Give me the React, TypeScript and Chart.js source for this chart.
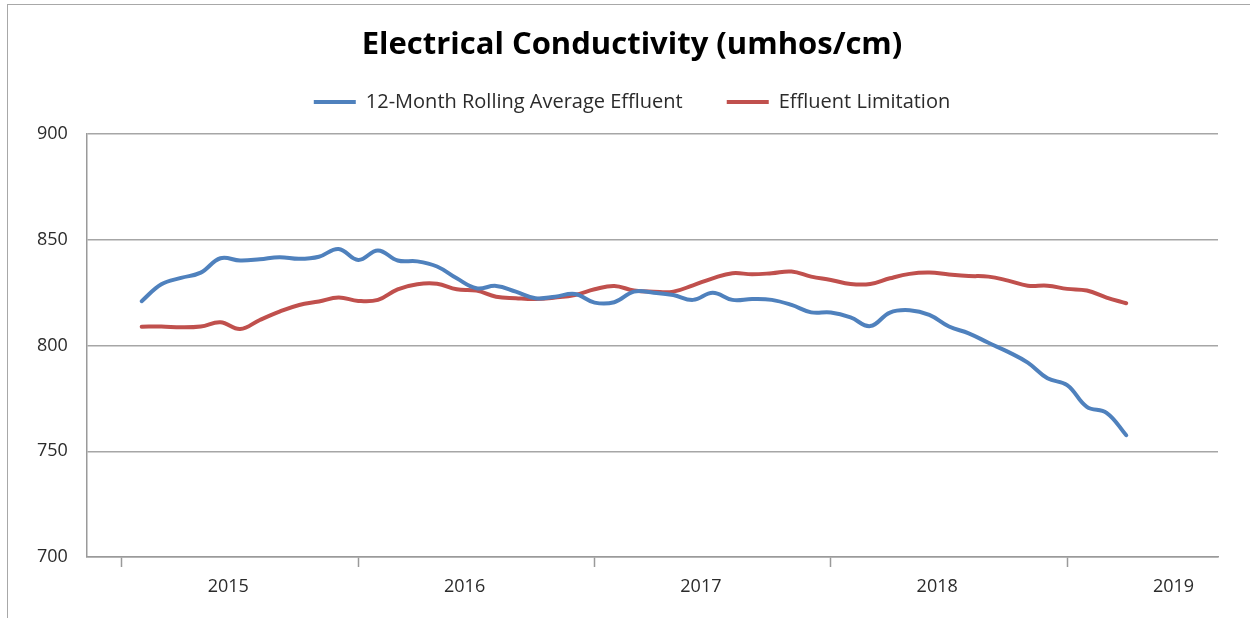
import { useEffect, useRef } from 'react';
import { Chart, registerables } from 'chart.js';

Chart.register(...registerables);

const chartTitle = 'Electrical Conductivity (umhos/cm)';
const seriesNames = ['12-Month Rolling Average Effluent', 'Effluent Limitation'];
const yearLabels = ['2015', '2016', '2017', '2018', '2019'];
const yTicks = [700, 750, 800, 850, 900];

const months = [
  '2015-02', '2015-03', '2015-04', '2015-05', '2015-06', '2015-07', '2015-08', '2015-09', '2015-10', '2015-11', '2015-12',
  '2016-01', '2016-02', '2016-03', '2016-04', '2016-05', '2016-06', '2016-07', '2016-08', '2016-09', '2016-10', '2016-11', '2016-12',
  '2017-01', '2017-02', '2017-03', '2017-04', '2017-05', '2017-06', '2017-07', '2017-08', '2017-09', '2017-10', '2017-11', '2017-12',
  '2018-01', '2018-02', '2018-03', '2018-04', '2018-05', '2018-06', '2018-07', '2018-08', '2018-09', '2018-10', '2018-11', '2018-12',
  '2019-01', '2019-02', '2019-03', '2019-04',
];

const rollingAvg = [
  821, 829, 832, 834.5, 841.3, 840.2, 840.8, 841.8, 841, 842, 845.7,
  840.5, 845, 840.2, 839.8, 837.4, 831.8, 827.1, 828.2, 825.5, 822.4, 823.1, 824.4,
  820.3, 820.5, 825.5, 825, 823.9, 821.6, 825, 821.6, 822, 821.6, 819.2, 815.7,
  815.6, 813.3, 809.2, 815.6, 816.7, 814.5, 809, 805.8, 801.3, 797, 791.9, 784.5,
  781.3, 771, 768.2, 757.6,
];

const limitation = [
  808.9, 809, 808.6, 809, 811, 807.8, 812.1, 816, 819.2, 820.8, 822.7,
  821.1, 821.6, 826.6, 829, 829.2, 826.6, 826, 823.1, 822.4, 822, 822.7, 823.9,
  826.6, 828.2, 826, 825.5, 825.5, 828.5, 831.8, 834.2, 833.7, 834.2, 835, 832.6,
  831, 829.1, 829.1, 831.8, 833.9, 834.5, 833.6, 832.9, 832.6, 830.7, 828.3, 828.3,
  826.8, 826, 822.7, 820,
];

const BLUE = '#4F81BD';
const RED = '#C0504D';
const FONT = "'Open Sans', sans-serif";
const TEXT = '#2b2b2b';
const AXIS = '#9a9a9a';

export default function App() {
  const ref = useRef<HTMLCanvasElement>(null);

  useEffect(() => {
    if (!ref.current) return;
    const yearStart = (i: number) => i * 12;
    const labelOffset = 5.4;
    const tickVals = [
      ...yearLabels.map((_, i) => yearStart(i)),
      ...yearLabels.map((_, i) => yearStart(i) + labelOffset),
    ].sort((a, b) => a - b);
    const near = (a: number, b: number) => Math.abs(a - b) < 1e-6;
    const isBoundary = (v: number) => yearLabels.some((_, i) => near(yearStart(i), v));
    const labelFor = (v: number) => {
      const i = yearLabels.findIndex((_, k) => near(yearStart(k) + labelOffset, v));
      return i >= 0 ? yearLabels[i] : '';
    };

    const legendSpacer = {
      id: 'legendSpacer',
      beforeLayout(chart: any) {
        const lg = chart.legend;
        if (lg && !lg.__patched) {
          const orig = lg.fit;
          lg.fit = function () {
            orig.call(this);
            this.height += 12;
          };
          lg.__patched = true;
        }
      },
    };

    const chart = new Chart(ref.current, {
      type: 'line',
      data: {
        labels: months,
        datasets: [
          {
            label: seriesNames[0],
            data: rollingAvg.map((y, i) => ({ x: i + 1, y })),
            borderColor: BLUE,
            backgroundColor: BLUE,
            borderWidth: 4,
            pointRadius: 0,
            tension: 0.4,
            borderCapStyle: 'round',
            borderJoinStyle: 'round',
            fill: false,
          },
          {
            label: seriesNames[1],
            data: limitation.map((y, i) => ({ x: i + 1, y })),
            borderColor: RED,
            backgroundColor: RED,
            borderWidth: 4,
            pointRadius: 0,
            tension: 0.4,
            borderCapStyle: 'round',
            borderJoinStyle: 'round',
            fill: false,
          },
        ],
      },
      options: {
        responsive: false,
        animation: false,
        devicePixelRatio: 1,
        layout: { padding: { left: 46, right: 32, top: 0, bottom: 0 } },
        plugins: {
          title: {
            display: true,
            text: chartTitle,
            color: '#000',
            font: { family: FONT, size: 31, weight: 'bold', lineHeight: 0.2 },
            padding: { top: 41.9, bottom: 0 },
          },
          legend: {
            display: true,
            position: 'top',
            labels: {
              usePointStyle: true,
              pointStyle: 'line',
              pointStyleWidth: 42,
              padding: 44,
              color: TEXT,
              font: { family: FONT, size: 20 },
            },
          },
          tooltip: { enabled: false },
        },
        scales: {
          x: {
            type: 'linear',
            min: -1.777,
            max: 55.66,
            afterBuildTicks: (s: any) => {
              s.ticks = tickVals.map((v) => ({ value: v }));
            },
            afterFit: (s: any) => {
              s.height = 61;
            },
            ticks: {
              autoSkip: false,
              maxRotation: 0,
              padding: 9,
              color: TEXT,
              font: { family: FONT, size: 18 },
              callback: (v: any) => labelFor(Number(v)),
            },
            grid: {
              drawOnChartArea: false,
              drawTicks: true,
              tickLength: 10,
              tickWidth: 1.5,
              tickColor: (ctx: any) => (ctx.tick && isBoundary(ctx.tick.value) ? AXIS : 'rgba(0,0,0,0)'),
            },
            border: { display: true, color: AXIS, width: 1.5 },
          },
          y: {
            min: 700,
            max: 900,
            afterBuildTicks: (s: any) => {
              s.ticks = yTicks.map((v) => ({ value: v }));
            },
            afterFit: (s: any) => {
              s.width = 41;
            },
            ticks: {
              mirror: true,
              padding: -50,
              color: TEXT,
              font: { family: FONT, size: 18 },
            },
            grid: { color: '#a6a6a6', lineWidth: 1.5, drawTicks: false },
            border: { display: true, color: AXIS, width: 1.5 },
          },
        },
      },
      plugins: [legendSpacer],
    } as any);

    return () => chart.destroy();
  }, []);

  return (
    <div style={{ position: 'fixed', left: 0, top: 0, width: 1250, height: 618, background: '#fff', overflow: 'hidden' }}>
      <div
        style={{
          position: 'absolute',
          left: 7,
          top: 4,
          width: 1300,
          height: 700,
          borderLeft: '1px solid #a8a8a8',
          borderTop: '1px solid #a8a8a8',
        }}
      />
      <canvas ref={ref} width={1250} height={618} style={{ position: 'absolute', left: 0, top: 0 }} />
    </div>
  );
}
